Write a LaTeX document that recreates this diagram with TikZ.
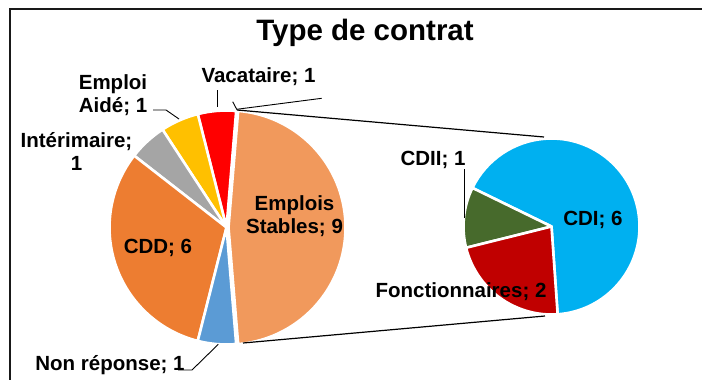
\documentclass[tikz,border=0pt]{standalone}
\usepackage{fontspec}
\setmainfont{Liberation Sans}
\definecolor{cES}{HTML}{F1995C}
\definecolor{cNR}{HTML}{5B9BD5}
\definecolor{cCDD}{HTML}{ED7D31}
\definecolor{cINT}{HTML}{A5A5A5}
\definecolor{cEA}{HTML}{FFC000}
\definecolor{cVAC}{HTML}{FF0000}
\definecolor{cCDI}{HTML}{00B0F0}
\definecolor{cFON}{HTML}{C00000}
\definecolor{cCDII}{HTML}{476A2C}
\tikzset{
  slice/.style={draw=white, line width=2.6pt, line join=round},
  lab/.style={font=\fontsize{20.5}{23}\selectfont\bfseries, inner sep=0pt, align=center},
  leader/.style={draw=black, line width=0.9pt},
  conn/.style={draw=black, line width=1.2pt},
  frame/.style={draw=black!90, line width=2pt}
}
\newcommand{\pieslice}[4]{% color, start, end, radius
  \filldraw[slice, fill=#1] (0,0) -- (#2:#4) arc[start angle=#2, end angle=#3, radius=#4] -- cycle;}
\begin{document}
\begin{tikzpicture}[x=1pt,y=-1pt]
\useasboundingbox (0,0) rectangle (702,380);
\fill[white] (0,0) rectangle (702,380);
% frame (cut off at right and bottom)
\draw[frame] (10,390) -- (10,8.5) -- (712,8.5);
% title
\node[font=\fontsize{29.5}{31}\selectfont\bfseries, inner sep=0pt, anchor=base] (title) at (365,40) {Type de contrat};
% main pie
\begin{scope}[shift={(226.5,227.5)}, yscale=-1]
  \begin{scope}[shift={(2,0)}]
    \pieslice{cES}{-85.26}{85.26}{117}
  \end{scope}
  \pieslice{cVAC}{85.26}{104.21}{117}
  \pieslice{cEA}{104.21}{123.16}{117}
  \pieslice{cINT}{123.16}{142.11}{117}
  \pieslice{cCDD}{142.11}{255.79}{117}
  \pieslice{cNR}{255.79}{274.74}{117}
\end{scope}
% secondary pie
\begin{scope}[shift={(551.5,226.5)}, yscale=-1]
  \pieslice{cCDI}{-86}{154}{88}
  \pieslice{cCDII}{154}{194}{88}
  \pieslice{cFON}{194}{274}{88}
\end{scope}
% connectors between pies
\coordinate (mTop) at (237,110);
\coordinate (sTop) at (544,137);
\coordinate (mBot) at (243,343);
\coordinate (sBot) at (545,316);
\draw[conn] (mTop) -- (sTop);
\draw[conn] (mBot) -- (sBot);
% labels
\node[lab, anchor=base] (vac) at (258.5,82.5) {Vacataire; 1};
\node[lab, anchor=north] (ea) at (113,74) {Emploi\\Aidé; 1};
\node[lab, anchor=north] (int) at (76.5,132) {Intérimaire;\\1};
\node[lab, anchor=base] (cdd) at (158,253) {CDD; 6};
\node[lab, anchor=north] (es) at (294.5,195) {Emplois\\Stables; 9};
\node[lab, anchor=base] (nr) at (110,370) {Non réponse; 1};
\node[lab, anchor=base] (cdii) at (433,165) {CDII; 1};
\node[lab, anchor=base] (cdi) at (593,225) {CDI; 6};
\node[lab, anchor=base] (fon) at (461,297) {Fonctionnaires; 2};
% leader lines
\coordinate (vacA) at (217,90);
\coordinate (vacB) at (217,107);
\draw[leader] (vacA) -- (vacB);
\coordinate (emA) at (232.7,101.7);
\coordinate (emB) at (236.7,109.3);
\coordinate (emC) at (321.7,98.3);
\draw[leader] (emA) -- (emB) -- (emC);
\coordinate (eaA) at (153,110);
\coordinate (eaB) at (166,110);
\coordinate (eaC) at (179,119);
\draw[leader] (eaA) -- (eaB) -- (eaC);
\coordinate (nrA) at (178,370);
\coordinate (nrB) at (192,370);
\coordinate (nrC) at (218.3,344.3);
\draw[leader] (nrA) -- (nrB) -- (nrC);
\coordinate (cdiiA) at (464,169);
\coordinate (cdiiB) at (464,218);
\draw[leader] (cdiiA) -- (cdiiB);
\end{tikzpicture}
\end{document}
